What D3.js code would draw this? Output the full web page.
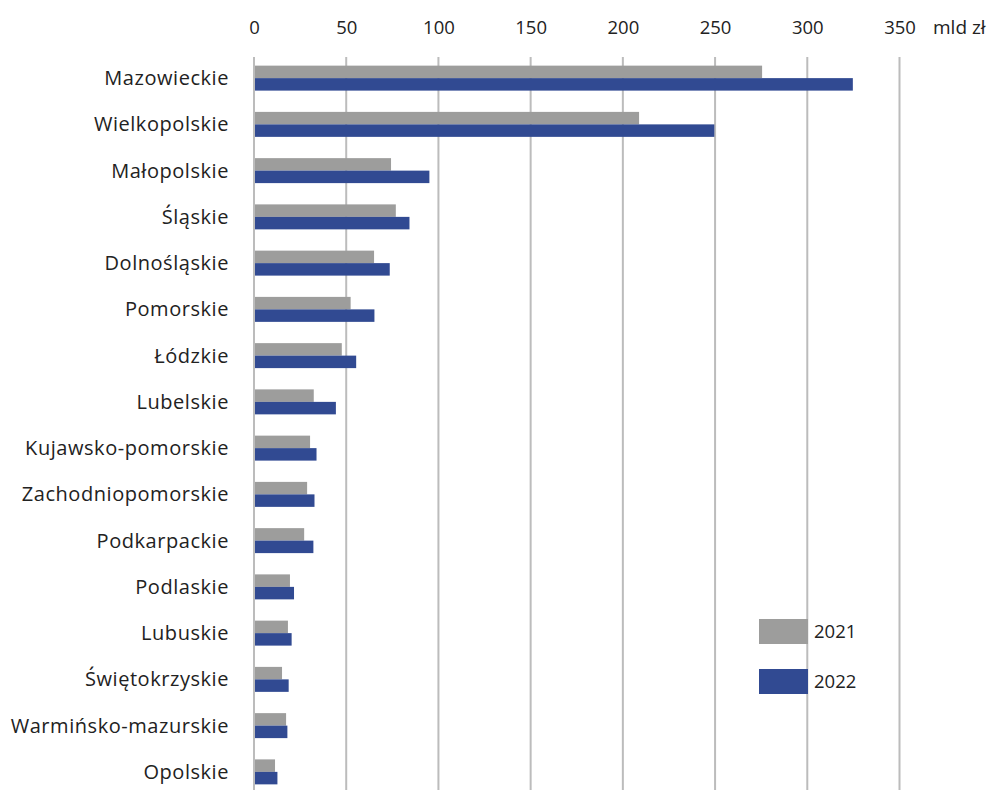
<!DOCTYPE html>
<html>
<head>
<meta charset="utf-8">
<script src="https://cdn.jsdelivr.net/npm/d3@7"></script>
<style>
  body { margin: 0; background: #fff; }
  svg text { font-family: "Open Sans", "Noto Sans", sans-serif; fill: #222; }
</style>
</head>
<body>
<div id="chart"></div>
<script>
(function(){

  var width = 995;
  var height = 790;

  var regions = ['Mazowieckie', 'Wielkopolskie', 'Małopolskie', 'Śląskie', 'Dolnośląskie',
    'Pomorskie', 'Łódzkie', 'Lubelskie', 'Kujawsko-pomorskie', 'Zachodniopomorskie',
    'Podkarpackie', 'Podlaskie', 'Lubuskie', 'Świętokrzyskie', 'Warmińsko-mazurskie', 'Opolskie'];
  var values2021 = [275.5, 208.8, 74.3, 76.9, 65.1, 52.4, 47.6, 32.4, 30.4, 28.8, 27.2, 19.5, 18.4, 15.2, 17.4, 11.4];
  var values2022 = [324.7, 249.6, 95.1, 84.3, 73.6, 65.3, 55.4, 44.4, 33.9, 32.8, 32.2, 21.7, 20.4, 18.8, 18.1, 12.7];
  var years = ['2021', '2022'];
  var colors = ['#9d9d9c', '#314a92'];
  var ticks = [0, 50, 100, 150, 200, 250, 300, 350];
  var unit = 'mld zł';

  var x = d3.scaleLinear().domain([0, 350]).range([254, 899.5]);
  var y = d3.scaleBand().domain(regions).range([55, 795]).paddingInner(0.46).paddingOuter(0.23);
  var sub = d3.scaleBand().domain(years).range([0, y.bandwidth()]);

  var svg = d3.select('#chart')
              .append('svg')
              .attr('width', width)
              .attr('height', height);

  // gridlines
  svg.append('g')
     .selectAll('line')
     .data(ticks)
     .enter()
     .append('line')
     .attr('x1', function(d){ return x(d); })
     .attr('x2', function(d){ return x(d); })
     .attr('y1', 57)
     .attr('y2', height)
     .attr('stroke', '#bcbcbc')
     .attr('stroke-width', 2);

  // top axis labels
  var axis = d3.axisTop(x).tickValues(ticks).tickSize(0).tickPadding(0);
  var ax = svg.append('g')
     .attr('transform', 'translate(0,34)')
     .call(axis);
  ax.select('.domain').remove();
  ax.selectAll('text')
    .attr('font-size', 18.5)
    .attr('fill', '#222')
    .style('font-family', '"Open Sans", sans-serif');

  svg.append('text')
     .attr('x', 933)
     .attr('y', 34)
     .attr('font-size', 19)
     .text(unit);

  // bars
  var groups = svg.append('g')
     .selectAll('g')
     .data(regions)
     .enter()
     .append('g')
     .attr('transform', function(d){ return 'translate(0,' + y(d) + ')'; });

  groups.selectAll('rect')
     .data(function(d, i){ return [values2021[i], values2022[i]]; })
     .enter()
     .append('rect')
     .attr('x', x(0) + 1)
     .attr('y', function(d, j){ return sub(years[j]); })
     .attr('width', function(d){ return x(d) - x(0) - 1; })
     .attr('height', sub.bandwidth())
     .attr('fill', function(d, j){ return colors[j]; });

  // category labels
  svg.append('g')
     .selectAll('text')
     .data(regions)
     .enter()
     .append('text')
     .attr('x', 229)
     .attr('y', function(d){ return y(d) + y.bandwidth() / 2; })
     .attr('dy', '0.35em')
     .attr('text-anchor', 'end')
     .attr('font-size', 20)
     .attr('letter-spacing', 0.55)
     .text(function(d){ return d; });

  // legend
  var legend = svg.append('g')
     .selectAll('g')
     .data(years)
     .enter()
     .append('g')
     .attr('transform', function(d, i){ return 'translate(759,' + (619 + i * 50) + ')'; });

  legend.append('rect')
     .attr('width', 49)
     .attr('height', 25)
     .attr('fill', function(d, i){ return colors[i]; });

  legend.append('text')
     .attr('x', 55)
     .attr('y', 13)
     .attr('dy', '0.35em')
     .attr('font-size', 18.5)
     .attr('fill', '#111')
     .text(function(d){ return d; });

})();
</script>
</body>
</html>
